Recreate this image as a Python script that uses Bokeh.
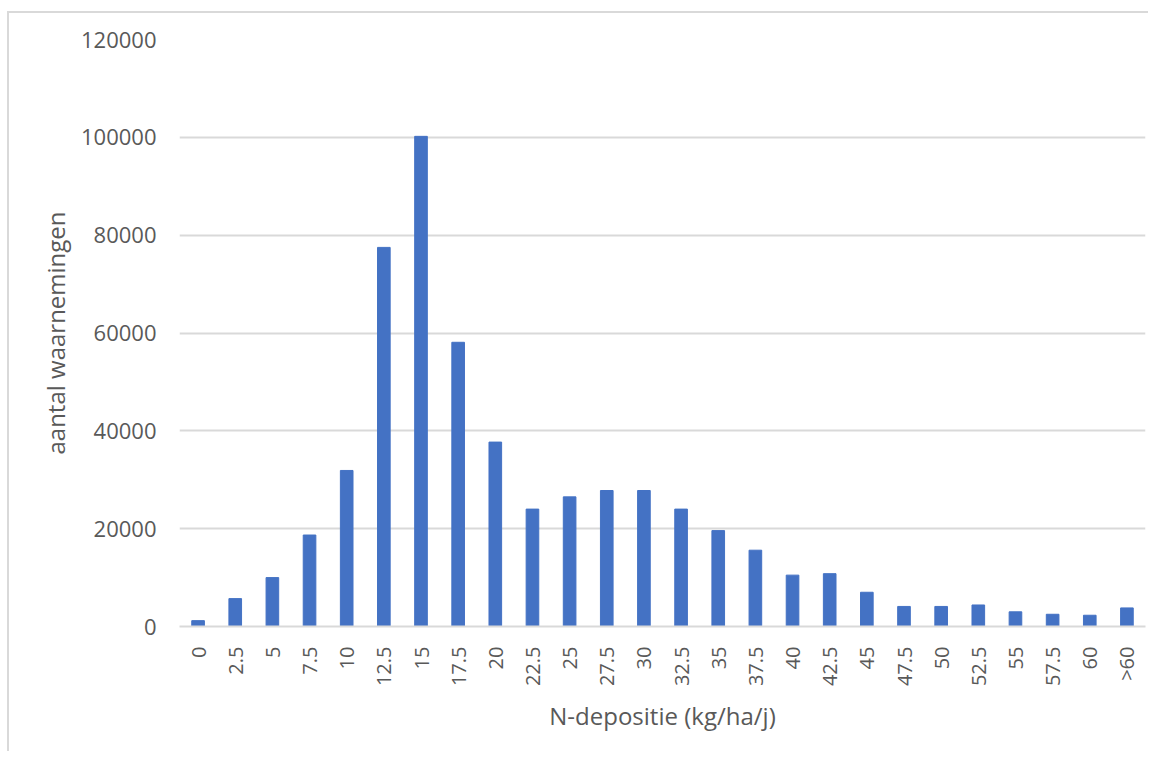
from bokeh.plotting import figure
from bokeh.models import FactorRange, Range1d, ColumnDataSource, SingleIntervalTicker, NumeralTickFormatter
from bokeh.embed import file_html
from bokeh.resources import INLINE
import math

categories = ["0", "2.5", "5", "7.5", "10", "12.5", "15", "17.5", "20", "22.5", "25", "27.5",
              "30", "32.5", "35", "37.5", "40", "42.5", "45", "47.5", "50", "52.5", "55",
              "57.5", "60", ">60"]
counts = [1200, 5700, 10000, 18700, 31900, 77500, 100200, 58100, 37700, 24000, 26500, 27800,
          27800, 24000, 19600, 15600, 10500, 10800, 7000, 4100, 4100, 4400, 3000, 2500, 2300, 3800]

y_label = "aantal waarnemingen"
x_label = "N-depositie (kg/ha/j)"

src = ColumnDataSource(dict(cat=categories, n=counts))

p = figure(width=1141, height=740, x_range=FactorRange(*categories, range_padding=0),
           y_range=Range1d(0, 120000), output_backend="svg", toolbar_location=None,
           min_border_left=170, min_border_right=5, min_border_top=26, min_border_bottom=127)
p.styles = {"border-left": "2px solid #d9d9d9", "border-top": "2px solid #d9d9d9",
            "margin-left": "7px", "margin-top": "11px"}
p.outline_line_color = None
p.background_fill_color = "white"

p.vbar(x="cat", top="n", width=0.34, source=src, color="#4472C4")

font = "Open Sans"
txt = "#595959"

p.yaxis.ticker = SingleIntervalTicker(interval=20000)
p.yaxis.formatter = NumeralTickFormatter(format="0")
p.yaxis.axis_line_color = None
p.yaxis.major_tick_line_color = None
p.yaxis.minor_tick_line_color = None
p.yaxis.major_label_standoff = 17
p.yaxis.major_label_text_font = font
p.yaxis.major_label_text_font_size = "22px"
p.yaxis.major_label_text_color = txt
p.yaxis.axis_label = y_label
p.yaxis.axis_label_text_font = font
p.yaxis.axis_label_text_font_size = "24px"
p.yaxis.axis_label_text_font_style = "normal"
p.yaxis.axis_label_text_color = txt
p.yaxis.axis_label_standoff = 6

p.xaxis.axis_line_color = "#d9d9d9"
p.xaxis.axis_line_width = 2
p.xaxis.major_tick_line_color = None
p.xaxis.minor_tick_line_color = None
p.xaxis.major_label_orientation = math.pi / 2
p.xaxis.major_label_standoff = 14
p.xaxis.major_label_text_font = font
p.xaxis.major_label_text_font_size = "20px"
p.xaxis.major_label_text_color = txt
p.xaxis.axis_label = x_label
p.xaxis.axis_label_text_font = font
p.xaxis.axis_label_text_font_size = "24px"
p.xaxis.axis_label_text_font_style = "normal"
p.xaxis.axis_label_text_color = txt
p.xaxis.axis_label_standoff = 10

p.xgrid.grid_line_color = None
p.ygrid.grid_line_color = "#d9d9d9"
p.ygrid.grid_line_width = 2

open("out.html", "w").write(file_html(p, INLINE))
